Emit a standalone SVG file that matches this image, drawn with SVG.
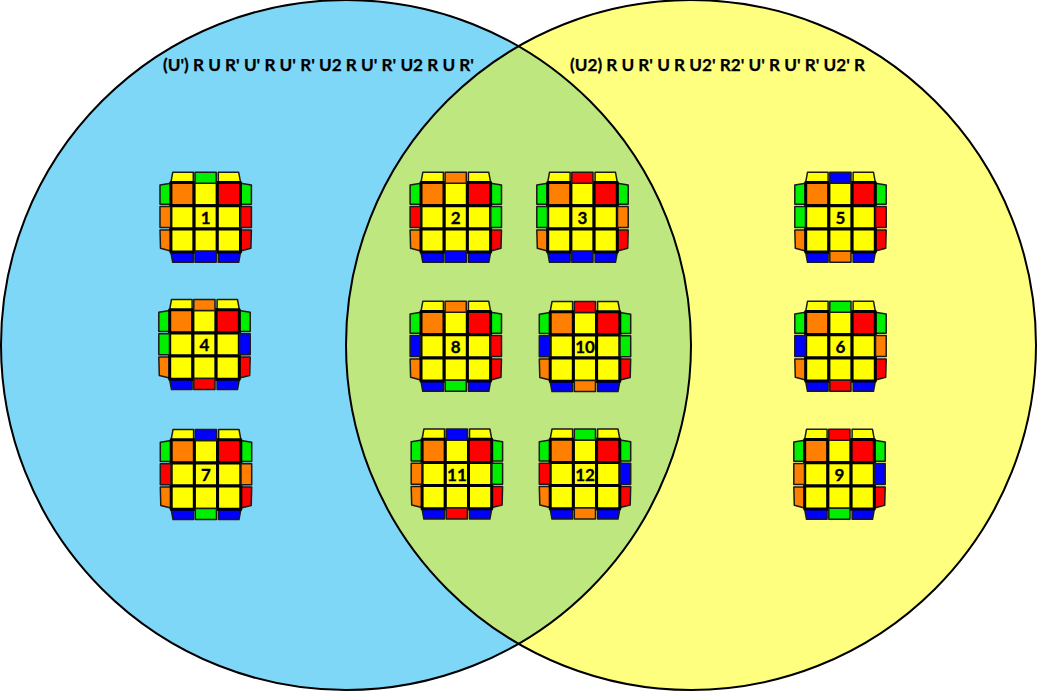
<svg xmlns="http://www.w3.org/2000/svg" width="1037" height="691" viewBox="0 0 1037 691">
<style>
.o{fill:#ff8000}.r{fill:#ff0000}.g{fill:#00ee00}.b{fill:#0000ff}.y{fill:#ffff00}
.s{stroke:#1a1a1a;stroke-width:1.5;stroke-linejoin:round}
.c{fill:#ffff00;stroke:#000;stroke-width:3;stroke-linejoin:round}
.f{stroke:#000;stroke-width:3;stroke-linejoin:round}
.ring{fill:none;stroke:#000;stroke-width:2}
text{font-family:Lato,Carlito,"Liberation Sans",sans-serif;font-weight:700;fill:#000}
.n{font-size:17px;text-anchor:middle;stroke:#000;stroke-width:.3}
.t{font-size:16.8px;stroke:#000;stroke-width:.25}
</style>
<defs>
<clipPath id="lc"><circle cx="346" cy="345" r="345"/></clipPath>
<polygon id="T" class="s" points="-10.7,-45 10.5,-45 10.5,-34 -10.7,-34"/>
<polygon id="B" class="s" points="-10.7,34 10.5,34 10.5,45 -10.7,45"/>
<polygon id="L" class="s" points="-45.7,-10.8 -35,-10.8 -35,10.2 -45.7,10.2"/>
<polygon id="R" class="s" points="35,-10.8 45.7,-10.8 45.7,10.2 35,10.2"/>
<g id="base">
<polygon class="s y" points="-33,-45 -12.4,-45 -12.4,-34 -35,-34"/>
<polygon class="s y" points="12.6,-45 33,-45 35,-34 12.6,-34"/>
<polygon class="s g" points="-45.7,-32.3 -35,-34 -35,-13 -45.7,-13"/>
<polygon class="s g" points="35,-34 45.7,-32.3 45.7,-13 35,-13"/>
<polygon class="s o" points="-45.7,12.6 -35,12.6 -35,33.6 -45.2,31"/>
<polygon class="s r" points="35,12.6 45.7,12.6 45.2,31 35,33.6"/>
<polygon class="s b" points="-35,34 -12.4,34 -12.4,45 -33,45"/>
<polygon class="s b" points="12.6,34 35,34 33,45 12.6,45"/>
<rect class="f o" x="-34.8" y="-34.8" width="23.2" height="23.2"/>
<rect class="c" x="-11.6" y="-34.8" width="23.2" height="23.2"/>
<rect class="f r" x="11.6" y="-34.8" width="23.2" height="23.2"/>
<rect class="c" x="-34.8" y="-11.6" width="23.2" height="23.2"/>
<rect class="c" x="-11.6" y="-11.6" width="23.2" height="23.2"/>
<rect class="c" x="11.6" y="-11.6" width="23.2" height="23.2"/>
<rect class="c" x="-34.8" y="11.6" width="23.2" height="23.2"/>
<rect class="c" x="-11.6" y="11.6" width="23.2" height="23.2"/>
<rect class="c" x="11.6" y="11.6" width="23.2" height="23.2"/>
</g>
</defs>
<g id="venn">
<circle cx="346" cy="345" r="345" fill="#7fd7f7"/>
<circle cx="691" cy="345" r="345" fill="#ffff7f"/>
<circle cx="691" cy="345" r="345" fill="#bfe77f" clip-path="url(#lc)"/>
<circle class="ring" cx="346" cy="345" r="345"/>
<circle class="ring" cx="691" cy="345" r="345"/>
</g>
<text id="label-left" class="t" x="163" y="70.5" textLength="311" lengthAdjust="spacingAndGlyphs">(U') R U R' U' R U' R' U2 R U' R' U2 R U R'</text>
<text id="label-right" class="t" x="570" y="70.5" textLength="295" lengthAdjust="spacingAndGlyphs">(U2) R U R' U R U2' R2' U' R U' R' U2' R</text>
<g id="cube-1" transform="translate(205.7 217.3)"><use href="#base"/><use href="#T" class="g"/><use href="#L" class="o"/><use href="#R" class="r"/><use href="#B" class="b"/><text class="n" y="6.6">1</text></g>
<g id="cube-2" transform="translate(455.8 217.3)"><use href="#base"/><use href="#T" class="o"/><use href="#L" class="r"/><use href="#R" class="g"/><use href="#B" class="b"/><text class="n" y="6.6">2</text></g>
<g id="cube-3" transform="translate(582.5 217.3)"><use href="#base"/><use href="#T" class="r"/><use href="#L" class="g"/><use href="#R" class="o"/><use href="#B" class="b"/><text class="n" y="6.6">3</text></g>
<g id="cube-4" transform="translate(204.5 344.5)"><use href="#base"/><use href="#T" class="o"/><use href="#L" class="g"/><use href="#R" class="b"/><use href="#B" class="r"/><text class="n" y="6.6">4</text></g>
<g id="cube-5" transform="translate(840.5 217.3)"><use href="#base"/><use href="#T" class="b"/><use href="#L" class="g"/><use href="#R" class="r"/><use href="#B" class="o"/><text class="n" y="6.6">5</text></g>
<g id="cube-6" transform="translate(840.5 346.3)"><use href="#base"/><use href="#T" class="g"/><use href="#L" class="b"/><use href="#R" class="o"/><use href="#B" class="r"/><text class="n" y="6.6">6</text></g>
<g id="cube-7" transform="translate(206 474.5)"><use href="#base"/><use href="#T" class="b"/><use href="#L" class="r"/><use href="#R" class="o"/><use href="#B" class="g"/><text class="n" y="6.6">7</text></g>
<g id="cube-8" transform="translate(455.8 346.3)"><use href="#base"/><use href="#T" class="o"/><use href="#L" class="b"/><use href="#R" class="r"/><use href="#B" class="g"/><text class="n" y="6.6">8</text></g>
<g id="cube-9" transform="translate(839.5 474.3)"><use href="#base"/><use href="#T" class="r"/><use href="#L" class="o"/><use href="#R" class="b"/><use href="#B" class="g"/><text class="n" y="6.6">9</text></g>
<g id="cube-10" transform="translate(585 346.5)"><use href="#base"/><use href="#T" class="r"/><use href="#L" class="b"/><use href="#R" class="g"/><use href="#B" class="o"/><text class="n" y="6.6">10</text></g>
<g id="cube-11" transform="translate(456.9 474)"><use href="#base"/><use href="#T" class="b"/><use href="#L" class="o"/><use href="#R" class="g"/><use href="#B" class="r"/><text class="n" y="6.6">11</text></g>
<g id="cube-12" transform="translate(585 474)"><use href="#base"/><use href="#T" class="g"/><use href="#L" class="r"/><use href="#R" class="b"/><use href="#B" class="o"/><text class="n" y="6.6">12</text></g>
</svg>
